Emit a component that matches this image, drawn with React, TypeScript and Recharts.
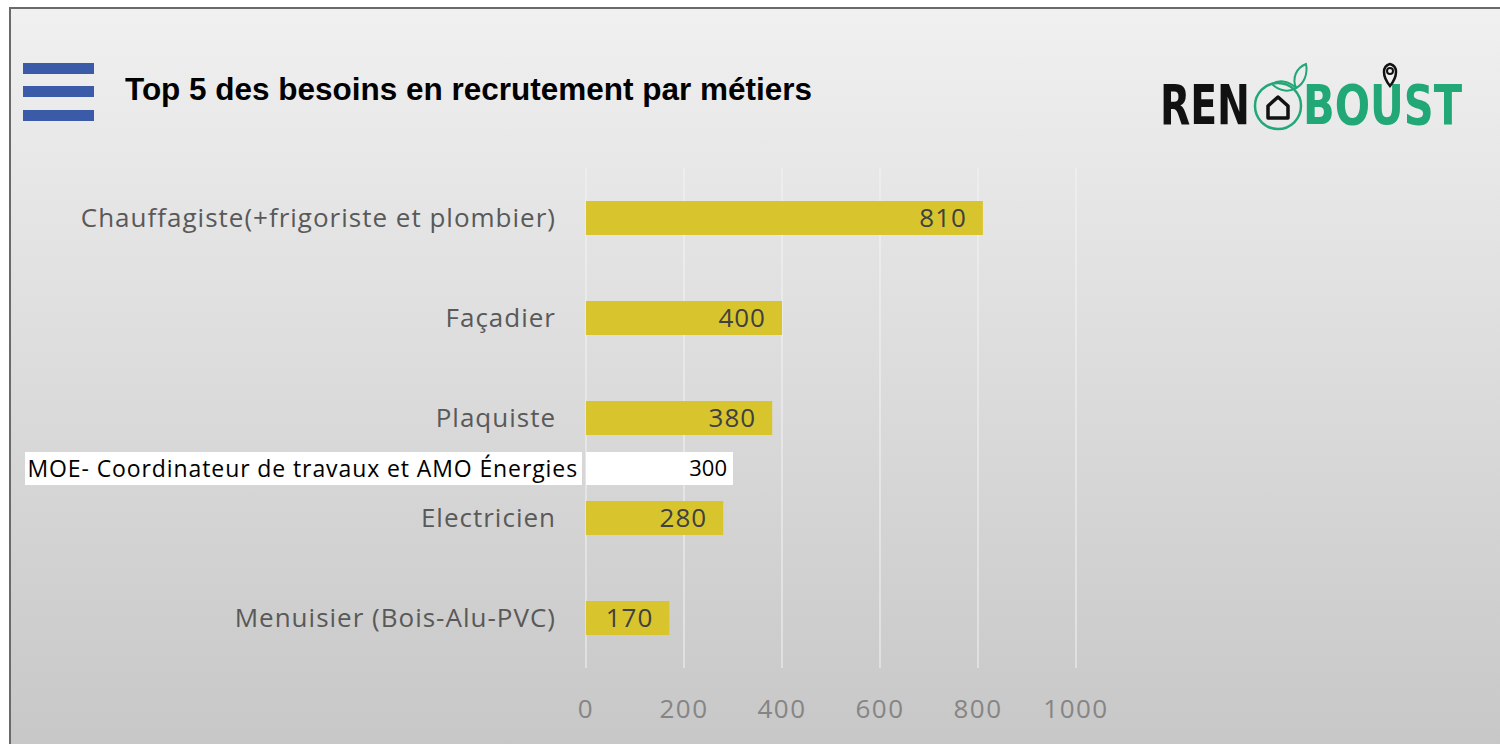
import React from "react";
import { BarChart, Bar, XAxis, YAxis, CartesianGrid, LabelList } from "recharts";

const metiers = [
  "Chauffagiste(+frigoriste et plombier)",
  "Façadier",
  "Plaquiste",
  "Electricien",
  "Menuisier (Bois-Alu-PVC)",
];
const besoins = [810, 400, 380, 280, 170];

const encartMetier = "MOE- Coordinateur de travaux et AMO Énergies";
const encartBesoin = 300;

const xTicks = [0, 200, 400, 600, 800, 1000];

const data = metiers.map((metier, i) => ({ metier, besoin: besoins[i] }));
const encartData = [{ metier: encartMetier, besoin: encartBesoin }];

const FONT = "'Open Sans', 'Noto Sans', sans-serif";
const MARGIN = { top: 168, right: 424, bottom: 36, left: 26 };

// white label box drawn behind the overlay row's category text
const EncartTick = (props: any) => {
  const { x, y, payload } = props;
  return (
    <g>
      <rect x={x - 553} y={y - 16.5} width={557} height={33} fill="#ffffff" />
      <text x={x} y={y} dy="0.35em" textAnchor="end" fill="#000" fontSize={23} letterSpacing={0.9} fontFamily={FONT}>
        {payload.value}
      </text>
    </g>
  );
};

function Logo() {
  const logoFont = "'DejaVu Sans Condensed', 'DejaVu Sans', sans-serif";
  return (
    <svg width={350} height={90} style={{ position: "absolute", left: 1150, top: 52 }}>
      <text x={10} y={72} fontSize={56} fontWeight="bold" fontFamily={logoFont} fill="#111" textLength={90} lengthAdjust="spacingAndGlyphs">
        REN
      </text>
      <circle cx={128} cy={54} r={23} fill="none" stroke="#22a877" strokeWidth={2.5} />
      <path d="M118 66 L118 54 L128 45 L138 54 L138 66 Z" fill="none" stroke="#111" strokeWidth={3.5} strokeLinejoin="round" />
      <path d="M146 36 C142 26 146 16 156 12 C158 22 154 32 146 36 Z" fill="none" stroke="#22a877" strokeWidth={2} />
      <path d="M146 36 C138 28 128 28 122 32 C130 40 140 40 146 36 Z" fill="none" stroke="#22a877" strokeWidth={2} />
      <text x={153} y={72} fontSize={56} fontWeight="bold" fontFamily={logoFont} fill="#22a877" textLength={159} lengthAdjust="spacingAndGlyphs">
        BOUST
      </text>
      <path d="M240 34 C232 24 232 14 240 12 C248 14 248 24 240 34 Z" fill="#f0f0f0" stroke="#111" strokeWidth={2.5} />
      <circle cx={240} cy={19} r={3} fill="none" stroke="#111" strokeWidth={2} />
    </svg>
  );
}

export default function App() {
  return (
    <div style={{ position: "fixed", left: 0, top: 0, width: 1500, height: 744, background: "#fff", overflow: "hidden", fontFamily: FONT }}>
      <div
        style={{
          position: "absolute",
          left: 9,
          top: 7,
          width: 1500,
          height: 760,
          borderLeft: "2px solid #6a6a6a",
          borderTop: "2px solid #6a6a6a",
          background: "linear-gradient(#f0f0f0, #c6c6c6)",
        }}
      />

      {/* menu icon */}
      {[63, 86, 110].map((t) => (
        <div key={t} style={{ position: "absolute", left: 23, top: t, width: 71, height: 11, background: "#3b5ba9" }} />
      ))}

      <svg width={760} height={60} style={{ position: "absolute", left: 120, top: 60 }}>
        <text x={5} y={40} fontSize={31} fontWeight="bold" fontFamily="'Liberation Sans', Arial, sans-serif" fill="#000" textLength={687} lengthAdjust="spacingAndGlyphs">
          Top 5 des besoins en recrutement par métiers
        </text>
      </svg>

      <Logo />

      <div style={{ position: "absolute", left: 0, top: 0 }}>
        <BarChart width={1500} height={744} data={data} layout="vertical" margin={MARGIN}>
          <CartesianGrid horizontal={false} stroke="#f4f4f4" />
          <XAxis
            type="number"
            domain={[0, 1000]}
            ticks={xTicks}
            axisLine={false}
            tickLine={false}
            tickSize={0}
            tickMargin={32}
            height={40}
            tick={{ fill: "#858585", fontSize: 26, letterSpacing: 1.5, fontFamily: FONT }}
          />
          <YAxis
            type="category"
            dataKey="metier"
            width={560}
            axisLine={false}
            tickLine={false}
            tickSize={0}
            tickMargin={30}
            tick={{ fill: "#595959", fontSize: 26, letterSpacing: 1, fontFamily: FONT }}
          />
          <Bar dataKey="besoin" fill="#d8c52e" barSize={34} isAnimationActive={false}>
            <LabelList dataKey="besoin" position="insideRight" offset={16} fill="#404040" fontSize={26} letterSpacing={1} fontFamily={FONT} />
          </Bar>
        </BarChart>
      </div>

      <div style={{ position: "absolute", left: 0, top: 451 }}>
        <BarChart width={1500} height={35} data={encartData} layout="vertical" margin={{ top: 0, right: MARGIN.right, bottom: 0, left: MARGIN.left }}>
          <XAxis type="number" domain={[0, 1000]} hide />
          <YAxis
            type="category"
            dataKey="metier"
            width={560}
            axisLine={false}
            tickLine={false}
            tickSize={0}
            tickMargin={8}
            tick={<EncartTick />}
          />
          <Bar dataKey="besoin" fill="#ffffff" barSize={33} isAnimationActive={false}>
            <LabelList dataKey="besoin" position="insideRight" offset={6} fill="#000" fontSize={22} fontFamily={FONT} />
          </Bar>
        </BarChart>
      </div>
    </div>
  );
}
